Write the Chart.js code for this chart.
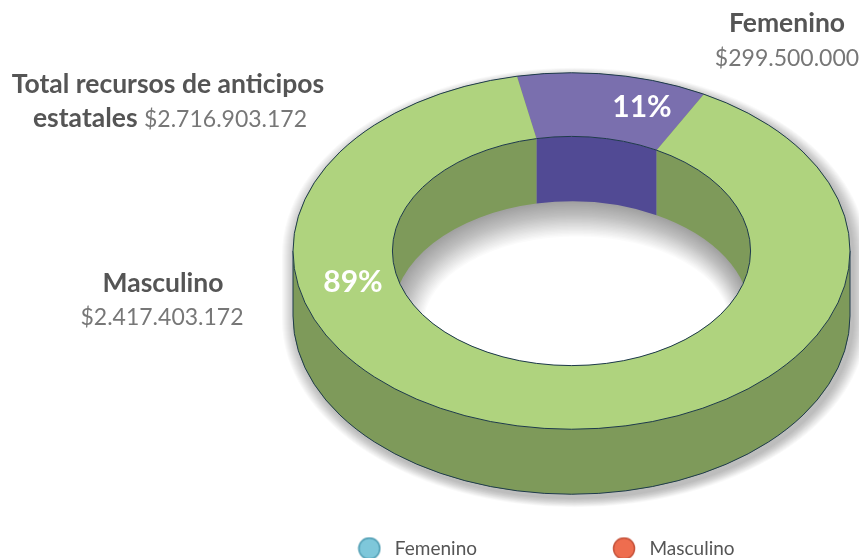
<!DOCTYPE html>
<html>
<head>
<meta charset="utf-8">
<script src="https://cdn.jsdelivr.net/npm/chart.js@4.4.0/dist/chart.umd.min.js"></script>
<style>
  html, body { margin: 0; padding: 0; background: #fff; }
  #wrap { width: 859px; height: 558px; position: relative; }
</style>
</head>
<body>
<div id="wrap"><canvas id="chart"></canvas></div>
<script>
const labels = ["Femenino", "Masculino"];
const values = [299500000, 2417403172];
const amounts = ["$299.500.000", "$2.417.403.172"];
const totalLabel = "$2.716.903.172";

const topColors = ["#7a6fae", "#afd37e"];
const sideColors = ["#514a94", "#7e9a5a"];
const legendColors = ["#7ec7da", "#ee6d4f"];
const legendBorders = ["#4f9db3", "#c5523a"];

// 3d look
const EX = 571.5, EY = 251, RX = 278.5, TILT = 0.64, DEPTH = 65;
const LINE = "#1e3a4c";
const FONT = "Lato";

function visibleParts(s, e, from, to) {
  const out = [];
  for (let n = -2; n <= 2; n++) {
    const a = Math.max(s, from + n * 2 * Math.PI);
    const b = Math.min(e, to + n * 2 * Math.PI);
    if (b > a) out.push([a, b]);
  }
  return out;
}

function wall(ctx, r, a, b, color) {
  ctx.beginPath();
  ctx.ellipse(EX, EY, r, r * TILT, 0, a, b);
  ctx.ellipse(EX, EY + DEPTH, r, r * TILT, 0, b, a, true);
  ctx.closePath();
  ctx.fillStyle = color;
  ctx.fill();
}

function silhouette(ctx, r, dx, dy) {
  ctx.beginPath();
  ctx.ellipse(EX + dx, EY + dy, r, r * TILT, 0, Math.PI, 2 * Math.PI);
  ctx.ellipse(EX + dx, EY + DEPTH + dy, r, r * TILT, 0, 0, Math.PI);
  ctx.closePath();
}

const pie3d = {
  id: "pie3d",
  beforeDatasetsDraw(chart) {
    const ctx = chart.ctx;
    const arcs = chart.getDatasetMeta(0).data;
    const a0 = arcs[0];
    const k = RX / a0.outerRadius;
    const ro = a0.outerRadius * k, ri = a0.innerRadius * k;

    // soft drop shadow, built from layers
    ctx.save();
    for (let j = 14; j >= 1; j--) {
      silhouette(ctx, ro + j, 3, 4);
      ctx.fillStyle = "rgba(0,0,0,0.022)";
      ctx.fill();
    }
    ctx.restore();

    silhouette(ctx, ro, 0, 0);
    ctx.fillStyle = sideColors[1];
    ctx.fill();

    // outer walls (near half)
    arcs.forEach((arc, i) => {
      visibleParts(arc.startAngle, arc.endAngle, 0, Math.PI)
        .forEach(([a, b]) => wall(ctx, ro, a, b, sideColors[i]));
    });

    ctx.save();
    ctx.strokeStyle = LINE;
    ctx.lineWidth = 1;
    ctx.beginPath();
    ctx.ellipse(EX, EY + DEPTH, ro, ro * TILT, 0, 0, Math.PI);
    ctx.moveTo(EX - ro, EY);
    ctx.lineTo(EX - ro, EY + DEPTH);
    ctx.moveTo(EX + ro, EY);
    ctx.lineTo(EX + ro, EY + DEPTH);
    ctx.stroke();
    ctx.restore();

    // hole
    ctx.save();
    ctx.beginPath();
    ctx.ellipse(EX, EY, ri, ri * TILT, 0, 0, 2 * Math.PI);
    ctx.clip();
    ctx.fillStyle = "#fff";
    ctx.fillRect(EX - ri - 2, EY - ri - 2, 2 * ri + 4, 2 * ri + 4);

    // shading on the floor of the hole
    for (let j = 1; j <= 26; j++) {
      ctx.beginPath();
      ctx.rect(EX - ri - 50, EY - ri - 50, 2 * ri + 100, 2 * ri + 100);
      ctx.ellipse(EX + j * 0.2, EY + DEPTH + j * 0.35, Math.max(ri - j, 1), Math.max(ri * TILT - j, 1), 0, 0, 2 * Math.PI);
      ctx.fillStyle = "rgba(0,0,0,0.016)";
      ctx.fill("evenodd");
    }

    // inner walls (far half)
    arcs.forEach((arc, i) => {
      visibleParts(arc.startAngle, arc.endAngle, Math.PI, 2 * Math.PI)
        .forEach(([a, b]) => wall(ctx, ri, a, b, sideColors[i]));
    });
    ctx.restore();

    // squash the top face
    ctx.save();
    ctx.translate(EX, EY);
    ctx.scale(k, k * TILT);
    ctx.translate(-a0.x, -a0.y);
  },
  afterDatasetsDraw(chart) {
    const ctx = chart.ctx;
    ctx.restore();
    const a0 = chart.getDatasetMeta(0).data[0];
    const k = RX / a0.outerRadius;
    const ro = a0.outerRadius * k, ri = a0.innerRadius * k;
    ctx.save();
    ctx.strokeStyle = LINE;
    ctx.lineWidth = 1;
    ctx.beginPath();
    ctx.ellipse(EX, EY, ro, ro * TILT, 0, 0, 2 * Math.PI);
    ctx.stroke();
    ctx.beginPath();
    ctx.ellipse(EX, EY, ri, ri * TILT, 0, 0, 2 * Math.PI);
    ctx.stroke();

    // percentages
    const total = values.reduce((s, v) => s + v, 0);
    const pct = values.map(v => Math.round(v / total * 100) + "%");
    ctx.fillStyle = "#fff";
    ctx.font = "bold 30px " + FONT;
    ctx.textAlign = "center";
    ctx.textBaseline = "middle";
    ctx.fillText(pct[0], 642, 107);
    ctx.fillText(pct[1], 353, 282);
    ctx.restore();
  },
  afterDraw(chart) {
    const ctx = chart.ctx;
    const bold = "bold 26.5px " + FONT;
    const reg = "23px " + FONT;
    const dark = "#555555", grey = "#777777";
    ctx.save();
    ctx.textBaseline = "alphabetic";
    ctx.textAlign = "center";

    ctx.font = bold; ctx.fillStyle = dark;
    ctx.fillText(labels[0], 787, 32);
    ctx.font = reg; ctx.fillStyle = grey;
    ctx.fillText(amounts[0], 787, 66);

    ctx.font = bold; ctx.fillStyle = dark;
    ctx.fillText(labels[1], 163, 292);
    ctx.font = reg; ctx.fillStyle = grey;
    ctx.fillText(amounts[1], 162, 325);

    ctx.font = bold; ctx.fillStyle = dark;
    ctx.fillText("Total recursos de anticipos", 168, 93);
    // second line: bold + regular, centred together
    ctx.textAlign = "left";
    const p1 = "estatales ";
    ctx.font = bold;
    const w1 = ctx.measureText(p1).width;
    ctx.font = reg;
    const w2 = ctx.measureText(totalLabel).width;
    const x0 = 170 - (w1 + w2) / 2;
    ctx.font = bold; ctx.fillStyle = dark;
    ctx.fillText(p1, x0, 127);
    ctx.font = reg; ctx.fillStyle = grey;
    ctx.fillText(totalLabel, x0 + w1, 127);
    ctx.restore();
  }
};

function dot(fill, stroke) {
  const c = document.createElement("canvas");
  c.width = 24; c.height = 24;
  const g = c.getContext("2d");
  g.beginPath();
  g.arc(12, 12, 10.5, 0, 2 * Math.PI);
  g.fillStyle = fill;
  g.fill();
  g.lineWidth = 1.5;
  g.strokeStyle = stroke;
  g.stroke();
  return c;
}
const dots = legendColors.map((c, i) => dot(c, legendBorders[i]));

new Chart(document.getElementById("chart"), {
  type: "doughnut",
  data: {
    labels,
    datasets: [{
      data: values,
      backgroundColor: topColors,
      borderWidth: 0,
      hoverOffset: 0,
      clip: false
    }]
  },
  options: {
    responsive: true,
    maintainAspectRatio: false,
    animation: false,
    events: [],
    rotation: -11.3,
    cutout: "64.3%",
    layout: { padding: { left: 217, right: -12, bottom: -10 } },
    plugins: {
      tooltip: { enabled: false },
      legend: {
        position: "bottom",
        labels: {
          usePointStyle: true,
          pointStyleWidth: 32,
          boxHeight: 19,
          padding: 131,
          color: "#555",
          font: { family: FONT, size: 19 },
          generateLabels: () => labels.map((text, i) => ({
            text,
            fillStyle: legendColors[i],
            strokeStyle: legendBorders[i],
            pointStyle: dots[i],
            fontColor: "#555",
            lineWidth: 0,
            hidden: false,
            index: i
          }))
        }
      }
    }
  },
  plugins: [pie3d]
});
</script>
</body>
</html>
